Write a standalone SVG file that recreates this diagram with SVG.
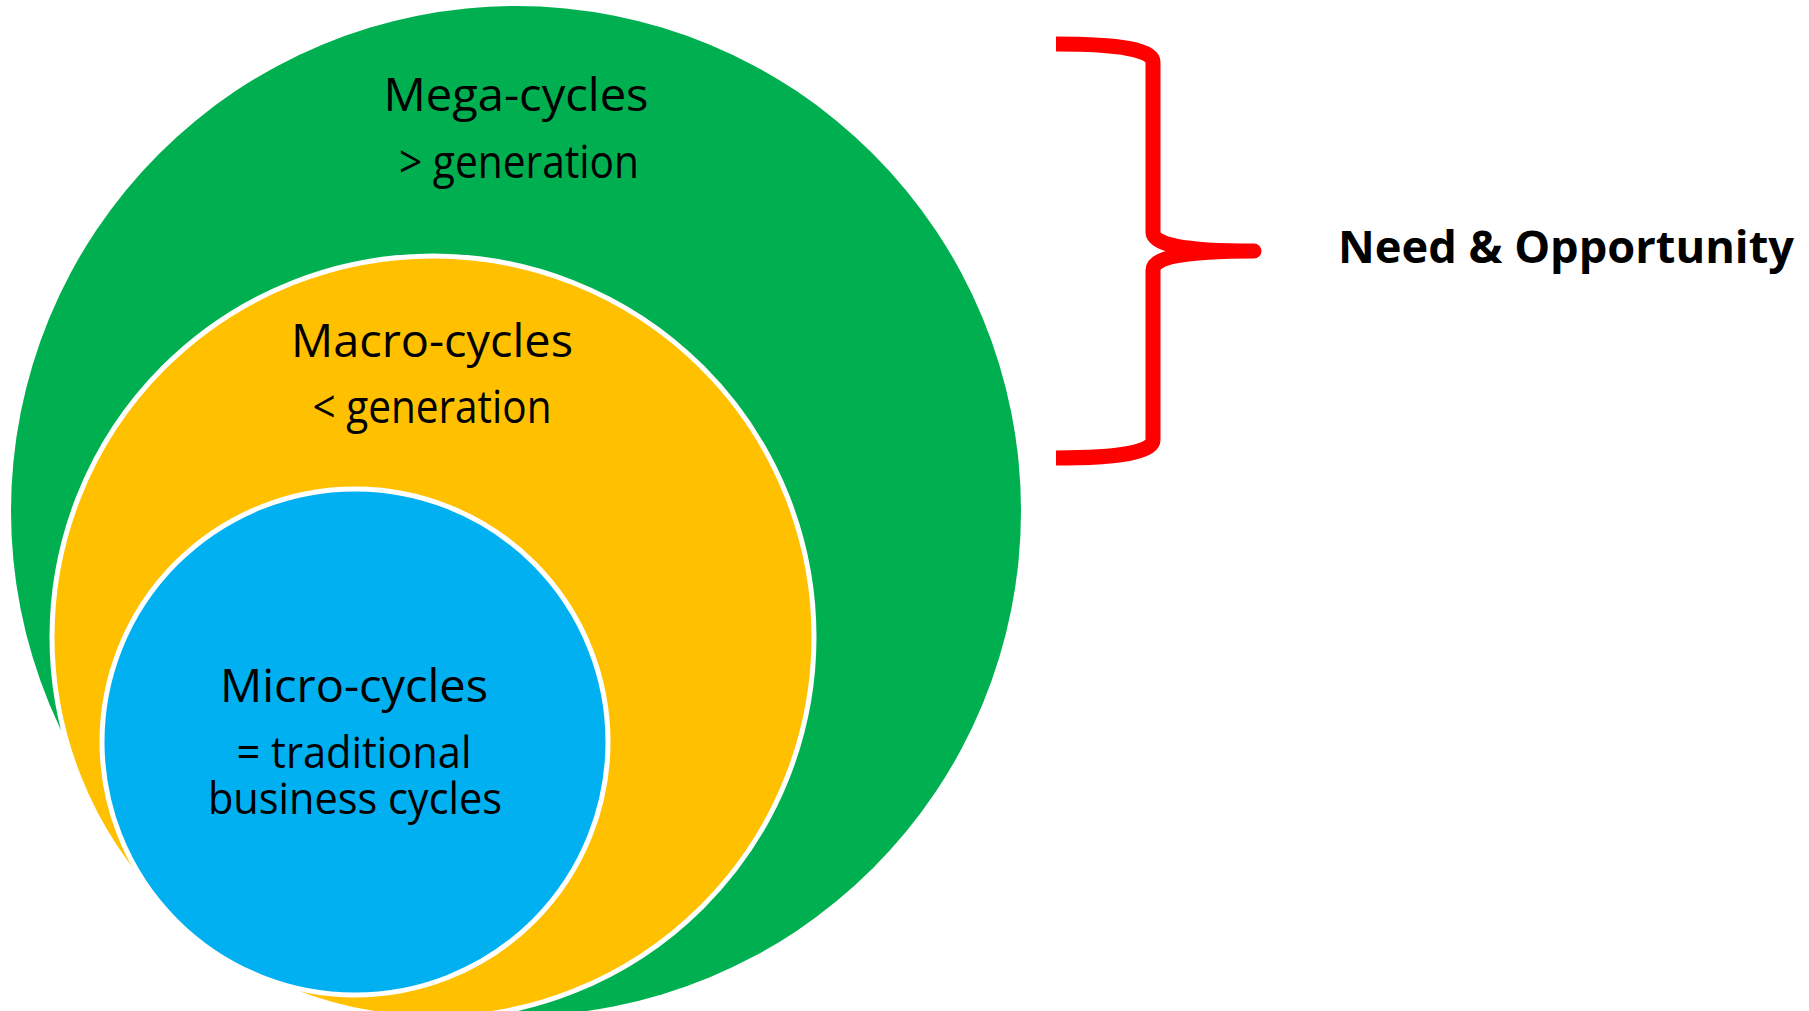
<svg xmlns="http://www.w3.org/2000/svg" width="1809" height="1011" viewBox="0 0 1809 1011">
  <style>
    .lbl { font-family: "Open Sans", "Noto Sans", sans-serif; font-size: 45px; fill: #000; text-anchor: middle; }
    .sub { font-size: 43px; }
    .tag { font-family: "Open Sans", "Noto Sans", sans-serif; font-size: 45px; font-weight: bold; fill: #000; }
    .ring { stroke: #fff; stroke-width: 5; }
  </style>
  <rect width="1809" height="1011" fill="#fff"/>

  <!-- outer cycle -->
  <g id="mega">
    <circle cx="516" cy="511" r="505" fill="#00B050"/>
    <text class="lbl" x="516" y="111" textLength="265" lengthAdjust="spacingAndGlyphs">Mega-cycles</text>
    <text class="lbl" x="519" y="178" textLength="240" lengthAdjust="spacingAndGlyphs">&gt; generation</text>
  </g>

  <!-- middle cycle -->
  <g id="macro">
    <circle class="ring" cx="433" cy="637" r="381" fill="#FFC000"/>
    <text class="lbl" x="432" y="357" textLength="282" lengthAdjust="spacingAndGlyphs">Macro-cycles</text>
    <text class="lbl" x="432" y="423" textLength="239" lengthAdjust="spacingAndGlyphs">&lt; generation</text>
  </g>

  <!-- inner cycle -->
  <g id="micro">
    <circle class="ring" cx="355" cy="742" r="253" fill="#00B0F0"/>
    <text class="lbl" x="354" y="702" textLength="268" lengthAdjust="spacingAndGlyphs">Micro-cycles</text>
    <text class="lbl sub" x="354" y="768" textLength="235" lengthAdjust="spacingAndGlyphs">= traditional</text>
    <text class="lbl sub" x="355" y="814" textLength="294" lengthAdjust="spacingAndGlyphs">business cycles</text>
  </g>

  <!-- brace grouping the longer cycles -->
  <g id="connectors">
    <path d="M1056,44 C1120,44 1153,50 1153,62 L1153,232 C1153,244 1180,251 1254,251 C1180,251 1153,258 1153,270 L1153,440 C1153,452 1120,458 1056,458"
          fill="none" stroke="#FF0000" stroke-width="15" stroke-linejoin="round" stroke-linecap="butt"/>
  </g>

  <g id="need">
    <text class="tag" x="1338" y="263" textLength="456" lengthAdjust="spacingAndGlyphs">Need &amp; Opportunity</text>
  </g>
</svg>
